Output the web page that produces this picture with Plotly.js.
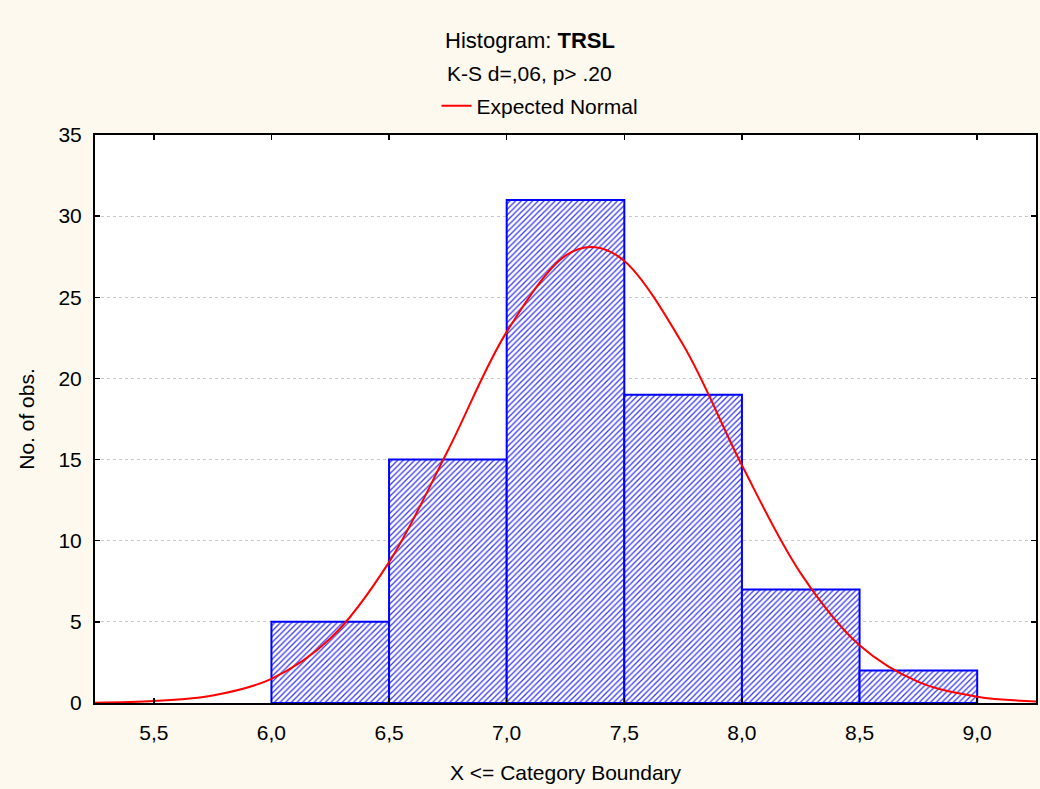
<!DOCTYPE html>
<html>
<head>
<meta charset="utf-8">
<script src="https://cdn.plot.ly/plotly-3.0.1.min.js"></script>
<style>
html,body{margin:0;padding:0;background:#fdf9ef;}
#chart{width:1040px;height:789px;}
</style>
</head>
<body>
<div id="chart"></div>
<script>
// Histogram bins (category boundaries) and counts
var binEdges = [6.0, 6.5, 7.0, 7.5, 8.0, 8.5, 9.0];
var counts = [5, 15, 31, 19, 7, 2];

// Expected Normal curve
var normalX = [5.25, 5.5, 5.75, 6.0, 6.25, 6.5, 6.75, 7.0, 7.25, 7.375, 7.5, 7.75, 8.0, 8.25, 8.5, 8.75, 9.0, 9.25];
var normalY = [0.02, 0.12, 0.46, 1.49, 3.97, 8.68, 15.56, 22.87, 27.57, 28.09, 27.24, 22.07, 14.65, 7.99, 3.56, 1.30, 0.39, 0.10];

var xTicks = [5.5, 6.0, 6.5, 7.0, 7.5, 8.0, 8.5, 9.0];
var yTicks = [0, 5, 10, 15, 20, 25, 30, 35];

var titleText = 'Histogram: <b>TRSL</b>';
var subtitleText = 'K-S d=,06, p> .20';
var seriesName = 'Expected Normal';
var xTitle = 'X &lt;= Category Boundary';
var yTitle = 'No. of obs.';

var centers = [], widths = [];
for (var i = 0; i < counts.length; i++) {
  centers.push((binEdges[i] + binEdges[i + 1]) / 2);
  widths.push(binEdges[i + 1] - binEdges[i]);
}

var FONT = 'Liberation Sans, Arial, sans-serif';

var bars = {
  type: 'bar',
  x: centers,
  y: counts,
  width: widths,
  showlegend: false,
  hoverinfo: 'x+y',
  marker: {
    color: 'white',
    line: {color: '#0000ff', width: 2},
    pattern: {shape: '/', fgcolor: '#3a3af0', bgcolor: 'white', size: 4, solidity: 0.33}
  }
};

var curve = {
  type: 'scatter',
  mode: 'lines',
  x: normalX,
  y: normalY,
  name: seriesName,
  line: {color: '#ff0000', width: 2, shape: 'spline', smoothing: 1.0}
};

var layout = {
  width: 1040,
  height: 789,
  paper_bgcolor: '#fdf9ef',
  plot_bgcolor: '#ffffff',
  separators: ', ',
  font: {family: FONT, size: 21, color: '#000'},
  margin: {l: 95, r: 4, t: 135, b: 86, pad: 0},
  bargap: 0,
  title: {text: titleText, x: 530 / 1040, xanchor: 'center', y: 1 - 40 / 789, yanchor: 'middle', yref: 'container',
          font: {family: FONT, size: 22, color: '#000'}},
  annotations: [{
    text: subtitleText, xref: 'paper', yref: 'paper', x: (529 - 95) / 941, y: 1 + (135 - 73) / 568,
    xanchor: 'center', yanchor: 'middle', showarrow: false, font: {family: FONT, size: 21, color: '#000'}
  }],
  showlegend: true,
  legend: {orientation: 'h', x: (540 - 95) / 941, xanchor: 'center', y: 1 + (135 - 106) / 568, yanchor: 'middle',
           bgcolor: 'rgba(0,0,0,0)', font: {family: FONT, size: 21, color: '#000'}},
  xaxis: {
    range: [5.25, 9.25],
    tickvals: xTicks,
    tickformat: '.1f',
    ticks: 'inside', ticklen: 5, tickwidth: 1.5, tickcolor: '#000',
    showline: true, linecolor: '#000', linewidth: 2, mirror: 'ticks',
    showgrid: false, zeroline: false,
    ticklabelstandoff: 10,
    tickfont: {family: FONT, size: 21, color: '#000'},
    title: {text: xTitle, standoff: 22, font: {family: FONT, size: 21, color: '#000'}}
  },
  yaxis: {
    range: [0, 35],
    tickvals: yTicks,
    ticks: 'inside', ticklen: 5, tickwidth: 1.5, tickcolor: '#000',
    showline: true, linecolor: '#000', linewidth: 2, mirror: 'ticks',
    showgrid: true, gridcolor: '#c8c8c8', griddash: 'dot', gridwidth: 1,
    zeroline: false,
    ticklabelstandoff: 7,
    tickfont: {family: FONT, size: 21, color: '#000'},
    title: {text: yTitle, standoff: 18, font: {family: FONT, size: 21, color: '#000'}}
  }
};

Plotly.newPlot('chart', [bars, curve], layout, {displayModeBar: false, staticPlot: true});
</script>
</body>
</html>
